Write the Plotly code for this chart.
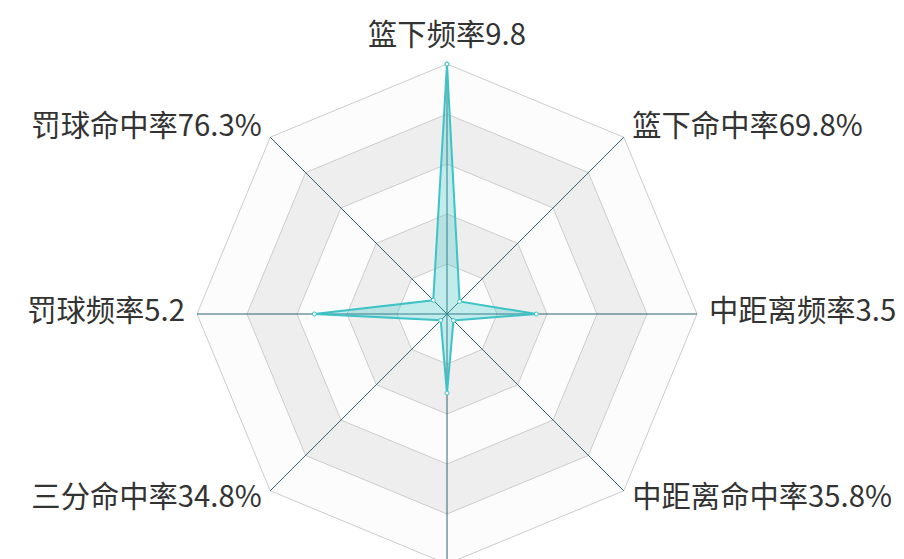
"""球员投篮分布雷达图（Plotly）"""

import plotly.graph_objects as go

# 指标名と表示値
INDICATORS = ["篮下频率", "篮下命中率", "中距离频率", "中距离命中率",
              "三分频率", "三分命中率", "罚球频率", "罚球命中率"]
DISPLAY_VALUES = ["9.8", "69.8%", "3.5", "35.8%", "3.1", "34.8%", "5.2", "76.3%"]
# 雷达图上の値（命中率は小数のまま）
RADAR_VALUES = [9.8, 0.698, 3.5, 0.358, 3.1, 0.348, 5.2, 0.763]
RADAR_MAX = 9.8
SPLIT_NUMBER = 5

SERIES_COLOR = "#3dc3c6"
AXIS_COLOR = "#2d6272"
SPLIT_LINE = "#cccccc"
SPLIT_AREA = ["#fcfcfc", "#eeeeee"]

# 指標名の配置（echartsのnameGap相当）
AXIS_R = RADAR_MAX * 1.08   # 文字が範囲外で消えないよう軸は少し広く
NAME_R = RADAR_MAX * 1.048
NAME_POS = ["top center", "middle right", "middle right", "middle right",
            "bottom center", "middle left", "middle left", "middle left"]

labels = [f"{n}{v}" for n, v in zip(INDICATORS, DISPLAY_VALUES)]
closed = labels + labels[:1]

fig = go.Figure()

# 分割エリア（外側から塗る）
for i in range(SPLIT_NUMBER, 0, -1):
    r = RADAR_MAX * i / SPLIT_NUMBER
    fig.add_trace(go.Scatterpolar(
        r=[r] * len(closed),
        theta=closed,
        mode="lines",
        fill="toself",
        fillcolor=SPLIT_AREA[(i - 1) % 2],
        line=dict(color=SPLIT_LINE, width=1),
        hoverinfo="skip",
    ))

# 軸線
spoke_theta, spoke_r = [], []
for lab in labels:
    spoke_theta += [lab, lab, None]
    spoke_r += [0, RADAR_MAX, None]
fig.add_trace(go.Scatterpolar(
    r=spoke_r,
    theta=spoke_theta,
    mode="lines",
    line=dict(color=AXIS_COLOR, width=1),
    hoverinfo="skip",
    connectgaps=False,
))

# データ系列
fig.add_trace(go.Scatterpolar(
    r=RADAR_VALUES + RADAR_VALUES[:1],
    theta=closed,
    mode="lines+markers",
    fill="toself",
    fillcolor="rgba(61,195,198,0.3)",
    line=dict(color=SERIES_COLOR, width=2),
    marker=dict(size=4, color="white", line=dict(color=SERIES_COLOR, width=1)),
))

# 指標名
fig.add_trace(go.Scatterpolar(
    r=[NAME_R] * len(labels),
    theta=labels,
    mode="text",
    text=labels,
    textposition=NAME_POS,
    textfont=dict(size=29.3, color="#333333"),
    cliponaxis=False,
    hoverinfo="skip",
))

# 高さ600で描き、下端は元図同様に画面外へ。
# ページ余白(8px)込みで中心(447,314)、RADAR_MAXが半径250pxになるように
fig.update_layout(
    width=904,
    height=600,
    margin=dict(l=0, r=0, t=0, b=0),
    paper_bgcolor="white",
    showlegend=False,
    font=dict(family="Noto Sans CJK SC, sans-serif", color="#333333"),
    polar=dict(
        domain=dict(x=[169 / 904, 709 / 904], y=[24 / 600, 564 / 600]),
        bgcolor="rgba(0,0,0,0)",
        gridshape="linear",
        radialaxis=dict(
            range=[0, AXIS_R],
            showticklabels=False,
            ticks="",
            showgrid=False,
            showline=False,
        ),
        angularaxis=dict(
            direction="clockwise",
            rotation=90,
            showgrid=False,
            showline=False,
            showticklabels=False,
            ticks="",
        ),
    ),
)

fig.write_html("out.html")
